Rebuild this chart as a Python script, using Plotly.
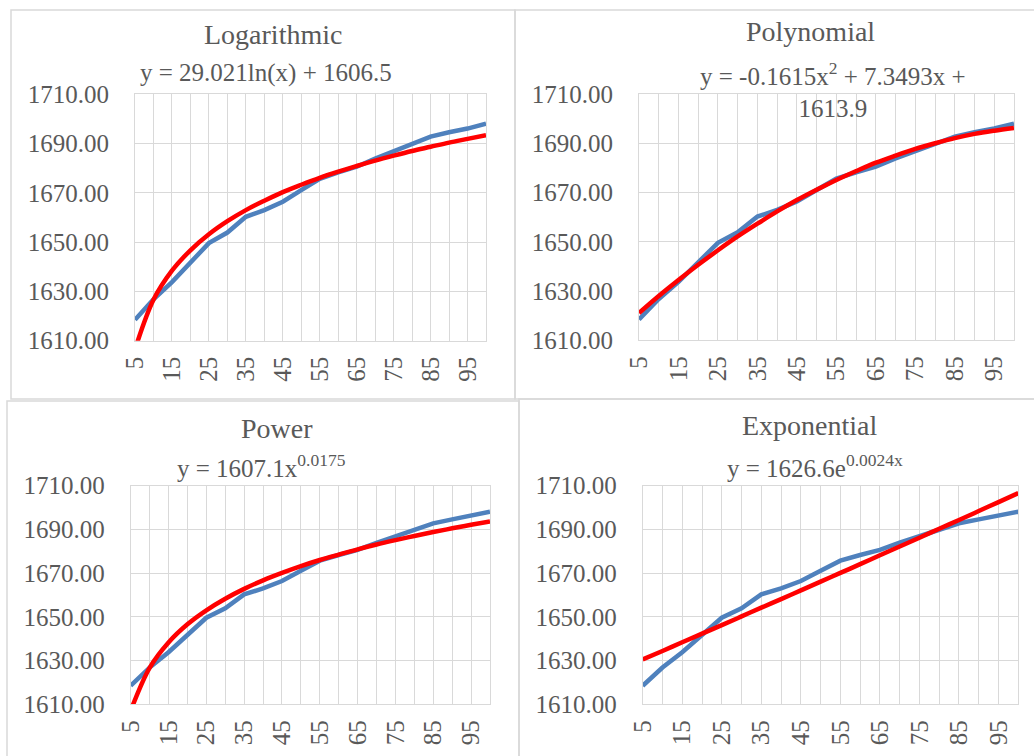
import plotly.graph_objects as go

# ---------------- data ----------------
categories = [5, 10, 15, 20, 25, 30, 35, 40, 45, 50, 55, 60, 65, 70, 75, 80, 85, 90, 95, 100]
tick_values = [5, 15, 25, 35, 45, 55, 65, 75, 85, 95]
tick_labels = ["5", "15", "25", "35", "45", "55", "65", "75", "85", "95"]

observed = [1618.5, 1626.8, 1633.8, 1641.7, 1649.6, 1653.9, 1660.3, 1663.0, 1666.4, 1671.1,
            1675.7, 1678.3, 1680.6, 1683.9, 1687.0, 1689.7, 1692.8, 1694.6, 1696.1, 1698.1]

log_trend = [1606.5, 1626.6, 1638.4, 1646.7, 1653.2, 1658.5, 1663.0, 1666.8, 1670.3, 1673.3,
             1676.1, 1678.6, 1680.9, 1683.1, 1685.1, 1687.0, 1688.7, 1690.4, 1691.9, 1693.4]
poly_trend = [1621.1, 1628.0, 1634.5, 1640.7, 1646.6, 1652.2, 1657.4, 1662.4, 1667.0, 1671.2,
              1675.2, 1678.8, 1682.2, 1685.1, 1687.8, 1690.1, 1692.2, 1693.9, 1695.2, 1696.3]
power_trend = [1607.1, 1626.7, 1638.3, 1646.6, 1653.0, 1658.3, 1662.8, 1666.7, 1670.1, 1673.2,
               1676.0, 1678.5, 1680.9, 1683.1, 1685.1, 1687.0, 1688.8, 1690.5, 1692.1, 1693.6]
exp_trend = [1630.5, 1634.4, 1638.4, 1642.3, 1646.2, 1650.2, 1654.2, 1658.1, 1662.1, 1666.1,
             1670.1, 1674.1, 1678.2, 1682.2, 1686.2, 1690.3, 1694.3, 1698.4, 1702.5, 1706.6]

titles = ["Logarithmic", "Polynomial", "Power", "Exponential"]
equations = ["y = 29.021ln(x) + 1606.5",
             "y = -0.1615x<sup>2</sup> + 7.3493x +<br>1613.9",
             "y = 1607.1x<sup>0.0175</sup>",
             "y = 1626.6e<sup>0.0024x</sup>"]
y_ticks = [1610, 1630, 1650, 1670, 1690, 1710]

# ---------------- layout helpers ----------------
W, H = 1034, 756
FONT = "Liberation Serif, Times New Roman, serif"
TXT = "#595959"
GRID = "#d9d9d9"
BLUE = "#4F81BD"
RED = "#FF0000"


def px(x):
    return x / W


def py(y):
    return 1 - y / H


# plot areas in pixels: (left, top, right, bottom)
plot_boxes = [(135, 94.3, 486, 340.7), (639, 94.3, 1014, 340.3),
              (130.7, 485.7, 490, 704.3), (642.7, 485.7, 1018.3, 704.3)]
panel_boxes = [(11, 10, 515, 399), (515, 10, 1045, 399),
               (7, 401, 519, 770), (519, 399, 1045, 770)]
title_pos = [(272.7, 34), (810, 31), (276.7, 428), (810, 425)]
eq_pos = [(266, 73), (833, 90), (261.7, 466), (815, 466)]
trends = [log_trend, poly_trend, power_trend, exp_trend]

fig = go.Figure()
layout = dict(width=W, height=H, margin=dict(l=0, r=0, t=0, b=0, pad=0, autoexpand=False),
              paper_bgcolor="white", plot_bgcolor="white", showlegend=False,
              font=dict(family=FONT, color=TXT, size=25))
shapes = []
annotations = []

for i in range(4):
    sfx = "" if i == 0 else str(i + 1)
    xa, ya = "x" + sfx, "y" + sfx
    l, t, r, b = plot_boxes[i]
    fig.add_trace(go.Scatter(x=categories, y=observed, mode="lines",
                             line=dict(color=BLUE, width=4.5), xaxis=xa, yaxis=ya,
                             hoverinfo="skip"))
    fig.add_trace(go.Scatter(x=categories, y=trends[i], mode="lines",
                             line=dict(color=RED, width=4.5, shape="spline"),
                             xaxis=xa, yaxis=ya, hoverinfo="skip"))
    layout["xaxis" + sfx] = dict(
        domain=[px(l), px(r)], anchor=ya, range=[5, 100], automargin=False,
        tickmode="array", tickvals=tick_values, ticktext=tick_labels, tickangle=-90,
        showgrid=True, gridcolor=GRID, gridwidth=1, zeroline=False,
        minor=dict(tickmode="array", tickvals=categories, showgrid=True,
                   gridcolor=GRID, gridwidth=1, ticks=""),
        showline=True, linecolor=GRID, linewidth=1, mirror=True,
        ticks="outside", ticklen=5, tickcolor="rgba(0,0,0,0)",
        tickfont=dict(family=FONT, size=25, color=TXT), fixedrange=True)
    layout["yaxis" + sfx] = dict(
        domain=[py(b), py(t)], anchor=xa, range=[1610, 1710], automargin=False,
        tickmode="array", tickvals=y_ticks, tickformat=".2f",
        showgrid=True, gridcolor=GRID, gridwidth=1, zeroline=False,
        showline=True, linecolor=GRID, linewidth=1, mirror=True,
        ticks="outside", ticklen=20, tickcolor="rgba(0,0,0,0)",
        tickfont=dict(family=FONT, size=25, color=TXT), fixedrange=True)
    x0, y0, x1, y1 = panel_boxes[i]
    shapes.append(dict(type="rect", xref="paper", yref="paper",
                       x0=px(x0), x1=px(x1), y0=py(y1), y1=py(y0),
                       line=dict(color=GRID, width=1.5), fillcolor="rgba(0,0,0,0)",
                       layer="below"))
    tx, ty = title_pos[i]
    annotations.append(dict(text=titles[i], xref="paper", yref="paper",
                            x=px(tx), y=py(ty), xanchor="center", yanchor="middle",
                            showarrow=False, font=dict(family=FONT, size=28, color=TXT)))
    ex, ey = eq_pos[i]
    annotations.append(dict(text=equations[i], xref="paper", yref="paper",
                            x=px(ex), y=py(ey), xanchor="center", yanchor="middle",
                            showarrow=False, align="center",
                            font=dict(family=FONT, size=25, color=TXT)))

layout["shapes"] = shapes
layout["annotations"] = annotations
fig.update_layout(**layout)
fig.write_html("out.html")
